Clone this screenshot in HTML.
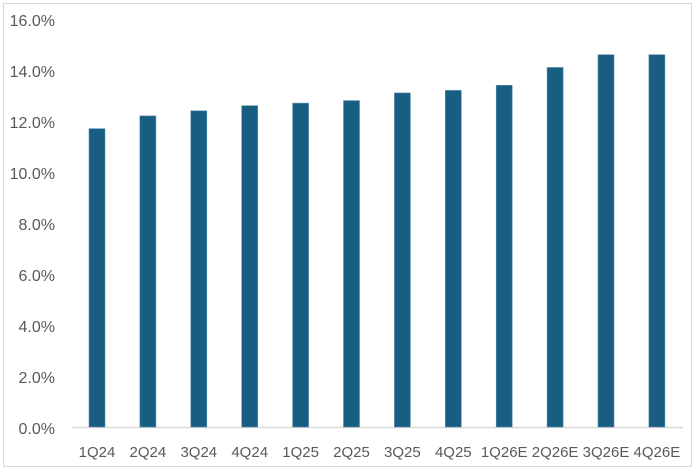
<!DOCTYPE html>
<html><head><meta charset="utf-8"><style>
html,body{margin:0;padding:0;background:#fff;}
body{width:700px;height:471px;overflow:hidden;}
text{font-family:"Liberation Sans",sans-serif;font-size:16px;fill:#595959;}
#labels text{font-size:15px;}
</style></head><body>
<svg width="700" height="471" xmlns="http://www.w3.org/2000/svg">
<rect x="3.5" y="3.5" width="688" height="463" fill="#fff" stroke="#d9d9d9" stroke-width="1"/>
<line x1="72" y1="427.5" x2="683" y2="427.5" stroke="#d9d9d9" stroke-width="1.5"/>
<g text-anchor="end">
<text x="55" y="26">16.0%</text>
<text x="55" y="77">14.0%</text>
<text x="55" y="128">12.0%</text>
<text x="55" y="179">10.0%</text>
<text x="55" y="230">8.0%</text>
<text x="55" y="281">6.0%</text>
<text x="55" y="332">4.0%</text>
<text x="55" y="383">2.0%</text>
<text x="55" y="434">0.0%</text>
</g>
<g fill="#175E82" stroke="#5d8fae" stroke-width="0.6" id="bars"></g>
<g text-anchor="middle" id="labels"></g>
<script>
var v=[11.7,12.2,12.4,12.6,12.7,12.8,13.1,13.2,13.4,14.1,14.6,14.6];
var l=["1Q24","2Q24","3Q24","4Q24","1Q25","2Q25","3Q25","4Q25","1Q26E","2Q26E","3Q26E","4Q26E"];
var b=document.getElementById("bars"),t=document.getElementById("labels"),ns="http://www.w3.org/2000/svg";
for(var i=0;i<12;i++){var x=89+i*50.9,h=v[i]*25.5;
var r=document.createElementNS(ns,"rect");r.setAttribute("x",x);r.setAttribute("y",427-h);r.setAttribute("width",16);r.setAttribute("height",h);b.appendChild(r);
var s=document.createElementNS(ns,"text");s.setAttribute("x",x+8);s.setAttribute("y",457);s.textContent=l[i];t.appendChild(s);}
</script>
</svg>
</body></html>
